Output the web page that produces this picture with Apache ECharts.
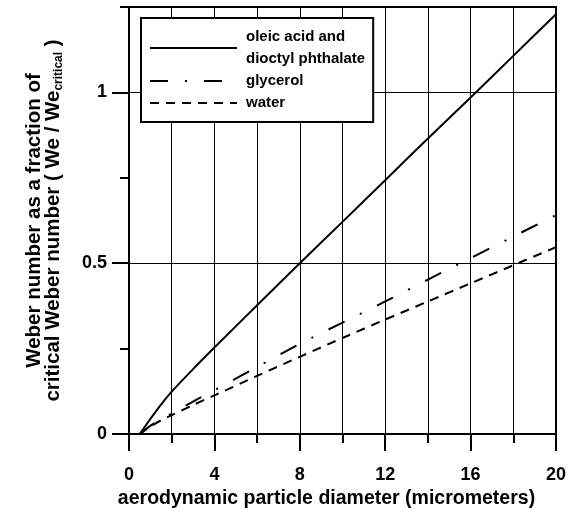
<!DOCTYPE html>
<html><head><meta charset="utf-8">
<script src="https://cdn.jsdelivr.net/npm/echarts@6/dist/echarts.min.js"></script>
<style>html,body{margin:0;padding:0;background:#fff}#c{width:568px;height:508px}</style>
</head><body><div id="c"></div>
<script>
const diameters = [0.5, 0.75, 1, 1.5, 2, 3, 4, 6, 8, 10, 12, 14, 16, 18, 20];
const oleicDioctyl = [0, 0.022, 0.044, 0.086, 0.124, 0.19, 0.253, 0.377, 0.5, 0.621, 0.743, 0.865, 0.985, 1.107, 1.229];
const glycerol = [0, 0.012, 0.024, 0.043, 0.06, 0.095, 0.128, 0.196, 0.264, 0.326, 0.388, 0.452, 0.515, 0.578, 0.641];
const water = [0, 0.011, 0.022, 0.04, 0.055, 0.085, 0.113, 0.17, 0.226, 0.281, 0.335, 0.388, 0.441, 0.494, 0.547];
const seriesNames = ['oleic acid and\ndioctyl phthalate', 'glycerol', 'water'];
const yMajorTicks = [0, 0.5, 1];
const yMinorTicks = [0.25, 0.75, 1.25];

const font = '"Liberation Sans", Arial, sans-serif';
const pairs = arr => diameters.map((d, i) => [d, arr[i]]);

const chart = echarts.init(document.getElementById('c'), null, {renderer: 'canvas'});
chart.setOption({
  animation: false,
  backgroundColor: '#fff',
  textStyle: {fontFamily: font},
  grid: {left: 129, right: 12, top: 7, bottom: 74, containLabel: false, outerBoundsMode: 'none',
    show: true, borderColor: '#000', borderWidth: 2, backgroundColor: 'transparent'},
  legend: {
    orient: 'vertical', left: 141, top: 18,
    backgroundColor: '#fff', borderColor: '#000', borderWidth: 2,
    padding: [8, 8, 8, 8], itemGap: 0, itemWidth: 87, itemHeight: 14,
    itemStyle: {opacity: 0},
    textStyle: {fontFamily: font, fontWeight: 'bold', fontSize: 15, color: '#000', lineHeight: 22, padding: [0, 0, 0, 4]},
    data: seriesNames
  },
  xAxis: {
    type: 'value', min: 0, max: 20, interval: 4,
    name: 'aerodynamic particle diameter (micrometers)', nameLocation: 'middle', nameGap: 52,
    nameTextStyle: {fontFamily: font, fontWeight: 'bold', fontSize: 19.5, color: '#000', padding: [0, 32, 0, 0]},
    axisLine: {lineStyle: {color: '#000', width: 2}},
    axisTick: {length: 17, lineStyle: {color: '#000', width: 2}},
    minorTick: {show: true, splitNumber: 2, length: 9, lineStyle: {color: '#000', width: 2}},
    splitLine: {show: true, lineStyle: {color: '#000', width: 1}},
    minorSplitLine: {show: true, lineStyle: {color: '#000', width: 1}},
    axisLabel: {margin: 32, fontFamily: font, fontWeight: 'bold', fontSize: 18, color: '#000'}
  },
  yAxis: [{
    type: 'value', min: 0, max: 1.25, interval: 0.5,
    name: 'Weber number as a fraction of\ncritical Weber number ( We / We{sub|critical} )',
    nameLocation: 'middle', nameRotate: 90, nameGap: 66,
    nameTextStyle: {fontFamily: font, fontWeight: 'bold', fontSize: 20.5, color: '#000', lineHeight: 19,
      rich: {sub: {fontFamily: font, fontWeight: 'bold', fontSize: 12, color: '#000', padding: [10, 0, 0, 0]}}},
    axisLine: {lineStyle: {color: '#000', width: 2}},
    axisTick: {length: 17, customValues: yMajorTicks, lineStyle: {color: '#000', width: 2}},
    axisLabel: {margin: 22, customValues: yMajorTicks, fontFamily: font, fontWeight: 'bold', fontSize: 18, color: '#000',
      formatter: v => String(v)},
    splitLine: {show: true, lineStyle: {color: '#000', width: 1}}
  }, {
    type: 'value', min: 0, max: 1.25, interval: 0.25, position: 'left',
    axisLine: {show: false},
    axisTick: {show: true, length: 9, customValues: yMinorTicks, lineStyle: {color: '#000', width: 2}},
    axisLabel: {show: false},
    splitLine: {show: false}
  }],
  series: [
    {name: seriesNames[0], type: 'line', symbol: 'none', smooth: 0.3, data: pairs(oleicDioctyl),
     lineStyle: {color: '#000', width: 2, type: 'solid'}, itemStyle: {color: '#000'}},
    {name: seriesNames[1], type: 'line', symbol: 'none', smooth: 0.3, data: pairs(glycerol),
     lineStyle: {color: '#000', width: 2, type: [18, 17, 2, 17]}, itemStyle: {color: '#000'}},
    {name: seriesNames[2], type: 'line', symbol: 'none', smooth: 0.3, data: pairs(water),
     lineStyle: {color: '#000', width: 2, type: [9, 7]}, itemStyle: {color: '#000'}}
  ]
});
</script></body></html>
